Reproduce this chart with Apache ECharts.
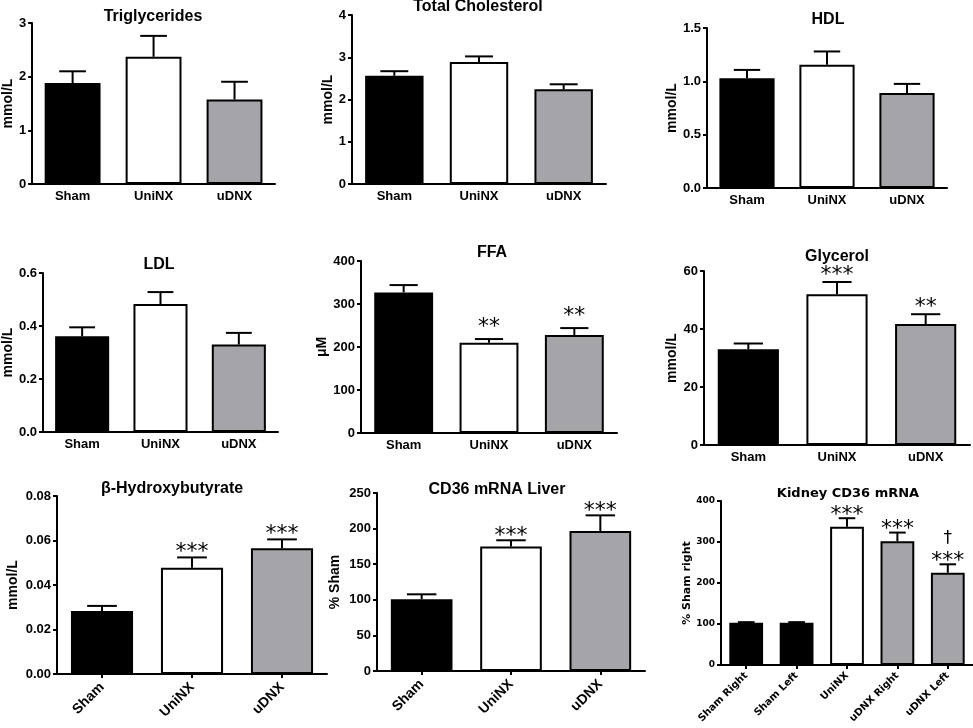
<!DOCTYPE html>
<html>
<head>
<meta charset="utf-8">
<script src="https://cdn.jsdelivr.net/npm/echarts@6/dist/echarts.min.js"></script>
<style>
html,body{margin:0;padding:0;background:#fff}
#main{width:973px;height:728px}
</style>
</head>
<body>
<div id="main"></div>
<script>
// group names
var groups = ['Sham', 'UniNX', 'uDNX'];
var kidneyGroups = ['Sham Right', 'Sham Left', 'UniNX', 'uDNX Right', 'uDNX Left'];

// means and SEM
var tgMean = [1.88, 2.37, 1.575], tgSem = [0.22, 0.39, 0.33];
var tcMean = [2.56, 2.89, 2.24], tcSem = [0.11, 0.13, 0.12];
var hdlMean = [1.03, 1.155, 0.89], hdlSem = [0.077, 0.125, 0.086];
var ldlMean = [0.361, 0.483, 0.33], ldlSem = [0.034, 0.045, 0.044];
var ffaMean = [327, 210, 228], ffaSem = [17, 8.5, 16];
var glyMean = [33.0, 52.0, 41.7], glySem = [2.0, 4.2, 3.4];
var bhbMean = [0.0283, 0.0478, 0.0565], bhbSem = [0.0023, 0.0046, 0.004];
var liverMean = [100.7, 175, 196.6], liverSem = [7, 8.6, 22];
var kidneyMean = [103, 103, 337, 302, 225], kidneySem = [1.5, 1.5, 21, 21, 20.6];

// significance marks
var ffaStars = ['', '**', '**'];
var glyStars = ['', '***', '**'];
var bhbStars = ['', '***', '***'];
var liverStars = ['', '***', '***'];
var kidneyStars = ['', '', '***', '***', '***'];
var kidneyDagger = ['', '', '', '', '\u2020'];

var GRAY = '#a5a4a9';
var barColors = ['#000', '#fff', GRAY];
var kidneyColors = ['#000', '#000', '#fff', GRAY, GRAY];
var FONT = '"Liberation Sans", Arial, sans-serif';
var KFONT = '"DejaVu Sans", sans-serif';

var panels = [
  {title:'Triglycerides', unit:'mmol/L', cats:groups, mean:tgMean, sem:tgSem, colors:barColors, max:3, step:1, dec:0, box:[31,23,244,161], tx:153, ty:17, gap:17},
  {title:'Total Cholesterol', unit:'mmol/L', cats:groups, mean:tcMean, sem:tcSem, colors:barColors, max:4, step:1, dec:0, box:[352,15,254,169], tx:478, ty:7, gap:16},
  {title:'HDL', unit:'mmol/L', cats:groups, mean:hdlMean, sem:hdlSem, colors:barColors, max:1.5, step:0.5, dec:1, box:[707,28,240,160], tx:828, ty:20, gap:25},
  {title:'LDL', unit:'mmol/L', cats:groups, mean:ldlMean, sem:ldlSem, colors:barColors, max:0.6, step:0.2, dec:1, box:[39,273,239,159], tx:159, ty:265, gap:25},
  {title:'FFA', unit:'\u03bcM', cats:groups, mean:ffaMean, sem:ffaSem, colors:barColors, max:400, step:100, dec:0, box:[361,261,256,172], tx:492, ty:253, gap:32, stars:ffaStars, starGap:17},
  {title:'Glycerol', unit:'mmol/L', cats:groups, mean:glyMean, sem:glySem, colors:barColors, max:60, step:20, dec:0, box:[704,271,266,174], tx:837, ty:257, gap:25, stars:glyStars, starGap:12},
  {title:'\u03b2-Hydroxybutyrate', unit:'mmol/L', cats:groups, mean:bhbMean, sem:bhbSem, colors:barColors, max:0.08, step:0.02, dec:2, box:[57,496,270,178], tx:172, ty:489, gap:37, stars:bhbStars, starGap:10, rot:45},
  {title:'CD36 mRNA Liver', unit:'% Sham', cats:groups, mean:liverMean, sem:liverSem, colors:barColors, max:250, step:50, dec:0, box:[377,493,268,178], tx:497, ty:490, gap:35, stars:liverStars, starGap:9, rot:45},
  {title:'Kidney CD36 mRNA', unit:'% Sham right', cats:kidneyGroups, mean:kidneyMean, sem:kidneySem, colors:kidneyColors, max:400, step:100, dec:0, box:[721,501,252,164], tx:848, ty:494, gap:26, stars:kidneyStars, daggers:kidneyDagger, starGap:8, rot:45, small:true}
];

function errRender(p){
  return function(params, api){
    var k = api.value(0);
    var base = api.coord([k, api.value(1)]);
    var top = api.coord([k, api.value(2)]);
    var half = api.size([1, 0])[0] * 0.33 / 2;
    var kids = [
      {type:'line', shape:{x1:base[0], y1:base[1], x2:top[0], y2:top[1]}, style:{stroke:'#000', lineWidth:2}},
      {type:'line', shape:{x1:top[0]-half, y1:top[1], x2:top[0]+half, y2:top[1]}, style:{stroke:'#000', lineWidth:2}}
    ];
    var s = p.stars ? p.stars[params.dataIndex] : '';
    if (s) {
      kids.push({type:'text', x:top[0], y:top[1] - p.starGap + 5,
        style:{text:s, font:'22px ' + KFONT, fill:'#000', textAlign:'center', textVerticalAlign:'middle'}});
    }
    var d = p.daggers ? p.daggers[params.dataIndex] : '';
    if (d) {
      kids.push({type:'text', x:top[0], y:top[1] - 26,
        style:{text:d, font:'17px ' + KFONT, fill:'#000', textAlign:'center', textVerticalAlign:'middle'}});
    }
    return {type:'group', children:kids};
  };
}

var option = {animation:false, backgroundColor:'#fff', grid:[], xAxis:[], yAxis:[], series:[], graphic:[]};

panels.forEach(function(p, i){
  var ff = p.small ? KFONT : FONT;
  var tickFs = p.small ? 9 : 13;
  option.grid.push({left:p.box[0], top:p.box[1], width:p.box[2], height:p.box[3]});
  option.xAxis.push({
    type:'category', gridIndex:i, data:p.cats,
    axisLine:{lineStyle:{color:'#000', width:2}},
    axisTick:{show:!!p.rot, alignWithLabel:true, length:4, lineStyle:{color:'#000', width:2}},
    axisLabel:{interval:0, rotate:p.rot || 0, margin:p.rot ? (p.small ? 9 : 11) : 6,
      color:'#000', fontWeight:'bold', fontFamily:ff, fontSize:p.small ? 10 : (p.rot ? 14 : 13)}
  });
  option.yAxis.push({
    type:'value', gridIndex:i, min:0, max:p.max, interval:p.step,
    name:p.unit, nameLocation:'middle', nameRotate:90, nameGap:p.gap,
    nameTextStyle:{color:'#000', fontWeight:'bold', fontFamily:ff, fontSize:p.small ? 11 : 14},
    axisLine:{show:true, lineStyle:{color:'#000', width:2}},
    axisTick:{show:true, length:4, lineStyle:{color:'#000', width:2}},
    splitLine:{show:false},
    axisLabel:{margin:6, color:'#000', fontWeight:'bold', fontFamily:ff, fontSize:tickFs,
      formatter:function(v){ return v.toFixed(p.dec); }}
  });
  option.series.push({
    type:'bar', xAxisIndex:i, yAxisIndex:i, barCategoryGap:p.small ? '33%' : '31%',
    itemStyle:{borderColor:'#000', borderWidth:2},
    data:p.mean.map(function(v, k){ return {value:v, itemStyle:{color:p.colors[k]}}; })
  });
  option.series.push({
    type:'custom', xAxisIndex:i, yAxisIndex:i, z:3, renderItem:errRender(p),
    data:p.mean.map(function(v, k){ return [k, v, v + p.sem[k]]; })
  });
  option.graphic.push({
    type:'text', x:p.tx, y:p.ty,
    style:{text:p.title, fill:'#000', textAlign:'center', textVerticalAlign:'middle',
      font:'bold ' + (p.small ? 13 : 16) + 'px ' + ff}
  });
});

var chart = echarts.init(document.getElementById('main'));
chart.setOption(option);
</script>
</body>
</html>
